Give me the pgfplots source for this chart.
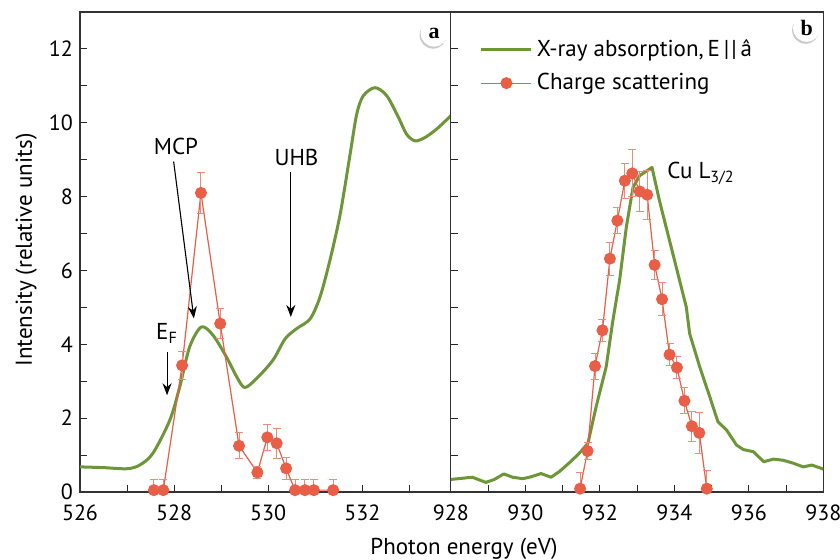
\documentclass[border=0pt]{standalone}
\usepackage{fontspec}
\setmainfont{PT Sans}
\newfontfamily\serifb{Liberation Serif}
\usepackage{pgfplots}
\pgfplotsset{compat=1.18}
\usetikzlibrary{arrows.meta,shadows}
\definecolor{xgreen}{RGB}{108,150,56}
\definecolor{xred}{RGB}{232,94,70}
\definecolor{xerr}{RGB}{238,138,118}

\tikzset{labcirc/.style={circle, fill=white, minimum size=13.5pt, inner sep=0pt,
    drop shadow={opacity=0.35, fill=black!60, shadow xshift=-0.5pt, shadow yshift=-1pt},
    font=\serifb\bfseries\fontsize{11}{13}\selectfont}}

\pgfplotsset{
  panel/.style={
    scale only axis, height=240pt, ymin=0, ymax=13,
    ytick={0,2,...,12}, minor ytick={1,3,...,11},
    tick pos=left, tick align=inside,
    major tick length=3.5pt, minor tick length=3.5pt,
    tick style={black!85, line width=0.5pt},
    axis line style={line width=0.6pt, black!80},
    tick label style={font=\fontsize{11}{13}\selectfont},
    xticklabel style={yshift=-3pt},
    /pgf/number format/assume math mode=true,
    /pgf/number format/1000 sep={},
  },
  greenleg/.style={legend image code/.code={\draw[##1] (0pt,0pt) -- (25pt,0pt);}},
  redleg/.style={legend image code/.code={\draw[mark repeat=2, mark phase=2, ##1] plot coordinates {(0pt,0pt) (12.5pt,0pt) (25pt,0pt)};}},
  redpts/.style={xred, line width=0.6pt, mark=*, mark size=2.7pt,
    mark options={fill=xred, draw=xred},
    error bars/.cd, y dir=both, y explicit,
    error bar style={xerr, line width=0.5pt},
    error mark options={xerr, rotate=90, mark size=2pt, line width=0.5pt}},
  greenline/.style={xgreen, line width=1.5pt, line join=round},
}

\begin{document}
\begin{tikzpicture}
\useasboundingbox (-40pt,-34pt) rectangle (380pt,246pt);
% ---------- panel a ----------
\begin{axis}[panel, name=A, at={(0pt,0pt)}, anchor=south west, width=185.4pt,
  xmin=526, xmax=533.88, xtick={526,528,530,532}, minor xtick={527,529,531,533}]
\addplot[greenline, smooth, tension=0.5] coordinates {
(526.0,0.68) (526.5,0.66) (527.0,0.63) (527.27,0.73) (527.55,1.05) (527.91,1.95)
(528.12,2.85) (528.33,3.93) (528.58,4.47) (528.83,4.24) (529.11,3.66) (529.33,3.12)
(529.5,2.83) (529.75,3.07) (530.1,3.57) (530.36,4.15) (530.6,4.42) (530.89,4.69)
(531.1,5.28) (531.31,6.27) (531.53,7.53) (531.74,9.15) (531.88,10.23) (532.02,10.73)
(532.27,10.95) (532.52,10.73) (532.77,10.14) (532.94,9.69) (533.12,9.51) (533.33,9.6)
(533.58,9.83) (533.88,10.19)
};
\addplot[redpts] table[x=x, y=y, y error=e] {
x y e
527.57 0.05 0.3
527.77 0.05 0.3
528.17 3.43 0.38
528.57 8.10 0.55
528.98 4.56 0.40
529.38 1.25 0.35
529.77 0.53 0.16
529.98 1.48 0.36
530.18 1.32 0.40
530.38 0.64 0.29
530.57 0.05 0.28
530.78 0.05 0.28
530.97 0.05 0.28
531.38 0.05 0.28
};
\draw[-{Stealth[length=6pt,width=4.5pt]}, line width=0.55pt] (axis cs:527.99,8.95) -- (axis cs:528.42,4.70);
\draw[-{Stealth[length=6pt,width=4.5pt]}, line width=0.55pt] (axis cs:530.48,8.66) -- (axis cs:530.48,4.74);
\draw[-{Stealth[length=6pt,width=4.5pt]}, line width=0.55pt] (axis cs:527.85,3.79) -- (axis cs:527.85,2.62);
\node[font=\fontsize{11.5}{13}\selectfont] at (axis cs:528.04,9.36) {MCP};
\node[font=\fontsize{11.5}{13}\selectfont] at (axis cs:530.6,9.06) {UHB};
\node[font=\fontsize{11.5}{13}\selectfont] at (axis cs:527.85,4.29) {E\textsubscript{F}};
\node[labcirc] at (rel axis cs:0.955,0.956) {a};
\end{axis}
% ---------- panel b ----------
\begin{axis}[panel, name=B, at={(185.4pt,0pt)}, anchor=south west, width=186.3pt,
  xmin=928, xmax=938, xtick={928,930,...,938}, minor xtick={929,931,...,937},
  yticklabels={},
  legend style={draw=none, fill=none, at={(rel axis cs:0.061,0.96)}, anchor=north west,
    font=\fontsize{11.5}{13}\selectfont, row sep=3pt},
  legend cell align=left]
\addplot[greenline, greenleg] coordinates {
(928.0,0.34) (928.58,0.40) (928.94,0.26) (929.17,0.34) (929.42,0.49) (929.66,0.40)
(929.93,0.36) (930.15,0.41) (930.42,0.50) (930.69,0.40) (930.91,0.55) (931.18,0.79)
(931.45,1.05) (931.68,1.32) (931.9,2.31) (932.17,3.39) (932.35,4.65) (932.53,5.73)
(932.71,7.17) (932.89,8.25) (933.07,8.57) (933.4,8.79) (933.6,7.89) (933.87,6.81)
(934.14,5.73) (934.32,5.01) (934.41,4.29) (934.68,3.39) (934.95,2.58) (935.17,1.90)
(935.4,1.68) (935.67,1.27) (935.85,1.15) (936.12,1.09) (936.4,0.82) (936.66,0.89)
(936.92,0.86) (937.19,0.78) (937.46,0.68) (937.69,0.73) (938.0,0.62)
};
\addlegendentry{X-ray absorption,\,E\,|\kern1pt|\,â}
\addplot[redleg, redpts] table[x=x, y=y, y error=e] {
x y e
931.47 0.09 0.45
931.67 1.11 0.22
931.87 3.41 0.35
932.07 4.38 0.30
932.27 6.32 0.45
932.47 7.35 0.36
932.67 8.43 0.47
932.87 8.63 0.64
933.07 8.14 0.55
933.27 8.05 0.67
933.47 6.15 0.40
933.67 5.22 0.45
933.87 3.72 0.30
934.07 3.37 0.30
934.27 2.47 0.35
934.47 1.78 0.40
934.67 1.60 0.55
934.87 0.09 0.50
};
\addlegendentry{Charge scattering}
\node[anchor=west, font=\fontsize{11.5}{13}\selectfont] at (axis cs:933.62,8.62) {Cu L\textsubscript{3/2}};
\node[labcirc] at (rel axis cs:0.955,0.966) {b};
\end{axis}
\node[rotate=90, anchor=base, font=\fontsize{11.5}{13}\selectfont] at (-24pt,121pt) {Intensity (relative units)};
\node[anchor=base, font=\fontsize{11.5}{13}\selectfont] at (192pt,-31.5pt) {Photon energy (eV)};
\end{tikzpicture}
\end{document}
